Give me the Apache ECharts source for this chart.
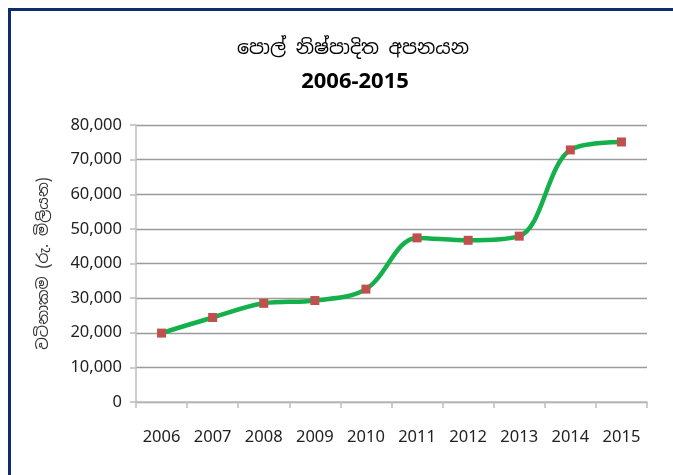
<!DOCTYPE html>
<html>
<head>
<meta charset="utf-8">
<script src="https://cdn.jsdelivr.net/npm/echarts@6/dist/echarts.min.js"></script>
<style>
  html, body { margin: 0; padding: 0; background: #fff; }
  #chart { width: 673px; height: 475px; }
</style>
</head>
<body>
<div id="chart"></div>
<script>
// years and export value (Rs. million)
const years = ['2006', '2007', '2008', '2009', '2010', '2011', '2012', '2013', '2014', '2015'];
const exportValues = [19900, 24400, 28500, 29300, 32600, 47400, 46700, 47900, 72800, 75100];
const yTicks = [0, 10000, 20000, 30000, 40000, 50000, 60000, 70000, 80000];

const titleText = 'පොල් නිෂ්පාදිත අපනයන';
const subText = '2006-2015';
const yName = 'වටිනාකම (රු. මිලියන)';

const chart = echarts.init(document.getElementById('chart'));

const option = {
  backgroundColor: '#fff',
  animation: false,
  graphic: [
    {
      type: 'polyline',
      shape: { points: [[9.5, 480], [9.5, 9.5], [680, 9.5]] },
      style: { stroke: '#0f2c6c', lineWidth: 3, fill: null }
    }
  ],
  title: [
    {
      text: titleText,
      left: 348,
      top: 34,
      textAlign: 'center',
      textStyle: { fontFamily: 'Noto Sans Sinhala, Noto Sans, sans-serif', fontSize: 19, fontWeight: 'normal', color: '#000' }
    },
    {
      text: subText,
      left: 350,
      top: 66,
      textAlign: 'center',
      textStyle: { fontFamily: 'Noto Sans', fontSize: 22, fontWeight: 'bold', color: '#000' }
    }
  ],
  grid: { left: 136, right: 26, top: 125, bottom: 73, containLabel: false },
  xAxis: {
    type: 'category',
    data: years,
    boundaryGap: true,
    axisLine: { lineStyle: { color: '#bdbdbd', width: 1.5 } },
    axisTick: { show: true, alignWithLabel: false, length: 6, lineStyle: { color: '#bdbdbd', width: 1.5 } },
    axisLabel: { color: '#222', fontFamily: 'Noto Sans', fontSize: 16.5, margin: 27 }
  },
  yAxis: {
    type: 'value',
    min: 0,
    max: 80000,
    interval: 10000,
    name: yName,
    nameLocation: 'middle',
    nameRotate: 90,
    nameGap: 84,
    nameTextStyle: { fontFamily: 'Noto Sans Sinhala, Noto Sans, sans-serif', fontSize: 15.5, color: '#333' },
    axisLine: { show: true, lineStyle: { color: '#bdbdbd', width: 1.5 } },
    axisTick: { show: true, inside: false, length: 6, lineStyle: { color: '#bdbdbd', width: 1.5 } },
    splitLine: { show: true, lineStyle: { color: '#9a9a9a', width: 1.3 } },
    axisLabel: {
      color: '#222', fontFamily: 'Noto Sans', fontSize: 16.5, margin: 14,
      formatter: v => v.toLocaleString('en-US')
    }
  },
  series: [
    {
      type: 'line',
      data: exportValues,
      smooth: 0.35,
      symbol: 'rect',
      symbolSize: 9,
      lineStyle: { color: '#14b04c', width: 4.5 },
      itemStyle: { color: '#c0504d' },
      z: 3
    }
  ]
};

chart.setOption(option);
</script>
</body>
</html>
